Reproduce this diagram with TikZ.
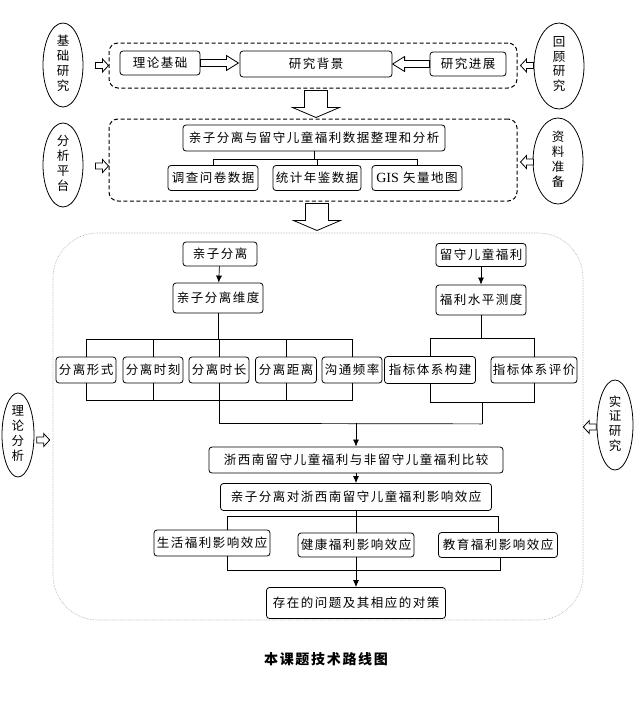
\documentclass[tikz,border=0pt]{standalone}
\usepackage{fontspec}
\newfontfamily\cjk[LetterSpace=12]{Noto Sans CJK SC}
\newfontfamily\cjkside{Noto Sans CJK SC}
\newfontfamily\tnr{Liberation Serif}
\usetikzlibrary{shapes.geometric,arrows.meta,calc}

% four characters one below the other
\newcommand{\vlabel}[4]{\begin{tabular}{@{}c@{}}#1\\#2\\#3\\#4\end{tabular}}

\tikzset{
  box/.style={draw, rounded corners=3pt, line width=0.8pt, inner sep=0pt,
    font=\cjk\fontsize{12.5}{14}\selectfont},
  side/.style={draw, ellipse, line width=0.8pt, inner sep=0pt,
    font=\cjkside\fontsize{12.5}{14.5}\selectfont},
  frame/.style={draw, dash pattern=on 4pt off 2.5pt, line width=1pt, rounded corners=9pt},
  outer/.style={draw=gray!70, densely dotted, line width=0.6pt, rounded corners=45pt},
  link/.style={line width=0.7pt},
  arr/.style={link, -{Latex[length=7pt,width=6pt]}},
  harrow/.pic={\draw[fill=white, line width=0.8pt] (0,-3.5) -- ({#1-12},-3.5) -- ({#1-12},-7.5)
    -- (#1,0) -- ({#1-12},7.5) -- ({#1-12},3.5) -- (0,3.5) -- cycle;},
  smallarr/.pic={\draw[fill=white, line width=0.8pt] (-13,-3) -- (-6,-3) -- (-6,-6.5)
    -- (0,0) -- (-6,6.5) -- (-6,3) -- (-13,3) -- cycle;},
  bigdown/.pic={\draw[fill=white, line width=0.8pt] (-11.5,2) -- (-11.5,19) -- (-23.5,19)
    -- (0,29) -- (23.5,19) -- (11.5,19) -- (11.5,2) -- cycle;}
}

\begin{document}
\begin{tikzpicture}[x=1pt,y=-1pt]
\useasboundingbox (0,0) rectangle (635,728);

% the first frame: background of the study
\node[frame, minimum width=408pt, minimum height=45pt] (bgbox) at (313,65.5) {};
\node[box, minimum width=80pt, minimum height=24pt] (llj) at (160,63) {理论基础};
\node[box, minimum width=152pt, minimum height=26pt] (yjbj) at (316,64) {研究背景};
\node[box, minimum width=76pt, minimum height=24pt] (yjjz) at (468,64) {研究进展};
\pic at (llj.east) {harrow=38};
\pic[xscale=-1] at (yjjz.west) {harrow=37};
% the side ellipses of the first frame
\node[side, minimum width=40pt, minimum height=84pt] (jcyj) at (63,65) {\vlabel{基}{础}{研}{究}};
\node[side, minimum width=50pt, minimum height=86pt] (hgyj) at (559,66) {\vlabel{回}{顾}{研}{究}};
\pic at (bgbox.west) {smallarr};
\pic[xscale=-1] at ($(bgbox.east)+(3,0)$) {smallarr};
\pic at (yjbj.south |- bgbox.south) {bigdown};

% the second frame: the data
\node[frame, minimum width=408pt, minimum height=82pt] (databox) at (313,160) {};
\node[box, minimum width=262pt, minimum height=26pt] (sjzl) at (314,138) {亲子分离与留守儿童福利数据整理和分析};
\node[box, minimum width=90pt, minimum height=25pt] (dcwj) at (213,178) {调查问卷数据};
\node[box, minimum width=88pt, minimum height=25pt] (tjnj) at (317,178) {统计年鉴数据};
\node[box, minimum width=90pt, minimum height=25pt] (gis) at (417,178) {{\tnr\fontsize{14}{14}\selectfont GIS} 矢量地图};
\draw[link] (sjzl.south) -- ++(0,8) coordinate (t0);
\draw[link] (dcwj.north) |- (t0) -| (gis.north);
\draw[link] (tjnj.north) -- (tjnj.north |- t0);
% the side ellipses of the second frame
\node[side, minimum width=40pt, minimum height=84pt] (fxpt) at (63,165) {\vlabel{分}{析}{平}{台}};
\node[side, minimum width=50pt, minimum height=86pt] (zlzb) at (558,161) {\vlabel{资}{料}{准}{备}};
\pic at ($(databox.west)+(0,6)$) {smallarr};
\pic[xscale=-1] at ($(databox.east)+(3,2)$) {smallarr};
\pic at (tjnj.south |- databox.south) {bigdown};

% the outer frame: the analysis
\node[outer, minimum width=530pt, minimum height=387pt] (mainbox) at (318,426.5) {};
\node[box, minimum width=74pt, minimum height=24pt] (qzfl) at (220,254) {亲子分离};
\node[box, minimum width=90pt, minimum height=30pt] (qzwd) at (218,298) {亲子分离维度};
\node[box, minimum width=90pt, minimum height=23pt] (lsfl) at (481,255) {留守儿童福利};
\node[box, minimum width=90pt, minimum height=30pt] (flsp) at (481,300) {福利水平测度};
\draw[arr] (qzfl) -- (qzwd);
\draw[arr] (lsfl) -- (flsp);
% the five dimensions
\node[box, minimum width=60pt, minimum height=26pt] (flxs) at (86,370) {分离形式};
\node[box, minimum width=60pt, minimum height=26pt] (flsk) at (153,370) {分离时刻};
\node[box, minimum width=60pt, minimum height=26pt] (flsc) at (219,370) {分离时长};
\node[box, minimum width=61pt, minimum height=26pt] (fljl) at (286,370) {分离距离};
\node[box, minimum width=60pt, minimum height=26pt] (gtpl) at (352,370) {沟通频率};
\draw[link] (qzwd.south) -- ++(0,26) coordinate (t1);
\draw[link] (flxs.north) |- (t1) -| (gtpl.north);
\draw[link] (flsk.north) -- (flsk.north |- t1);
\draw[link] (flsc.north) -- (flsc.north |- t1);
\draw[link] (fljl.north) -- (fljl.north |- t1);
\draw[link] (flxs.south) -- ++(0,17) coordinate (b1) -| (gtpl.south);
\draw[link] (flsk.south) -- (flsk.south |- b1);
\draw[link] (fljl.south) -- (fljl.south |- b1);
\draw[link] (flsc.south) -- ++(0,40) coordinate (m1);
% the index system
\node[box, minimum width=91pt, minimum height=27pt] (zbgj) at (430,370) {指标体系构建};
\node[box, minimum width=86pt, minimum height=26pt] (zbpj) at (534,370) {指标体系评价};
\draw[link] (flsp.south) -- ++(0,23) coordinate (t2);
\draw[link] (zbgj.north) |- (t2) -| (zbpj.north);
\draw[link] (zbgj.south) -- ++(0,18) coordinate (b2) -| (zbpj.south);
\draw[link] ($(b2)!0.5!(zbpj.south |- b2)$) -- ++(0,22) coordinate (m2);
\draw[link] (m1) -- (m2);

% the comparison and the effects
\node[box, minimum width=294pt, minimum height=26pt] (bj) at (356,460) {浙西南留守儿童福利与非留守儿童福利比较};
\node[box, minimum width=271pt, minimum height=27pt] (yxxy) at (356,497) {亲子分离对浙西南留守儿童福利影响效应};
\draw[arr] (m1 -| bj.north) -- (bj.north);
\draw[arr] (bj) -- (yxxy);
\node[box, minimum width=116pt, minimum height=26pt] (shxy) at (212,543) {生活福利影响效应};
\node[box, minimum width=116pt, minimum height=24pt] (jkxy) at (356,545) {健康福利影响效应};
\node[box, minimum width=119pt, minimum height=25pt] (jyxy) at (498,545) {教育福利影响效应};
\draw[link] (yxxy.south) -- (jkxy.north);
\draw[link] ($(shxy.north)+(15,0)$) |- ($(jyxy.north)+(0,-16)$) -- (jyxy.north);
\draw[link] ($(shxy.south)+(15,0)$) |- ($(jyxy.south)+(2,12)$) -- ($(jyxy.south)+(2,0)$);
\node[box, minimum width=179pt, minimum height=31pt] (czwt) at (356,603) {存在的问题及其相应的对策};
\draw[arr] (jkxy.south) -- (czwt.north);
% the side ellipses of the outer frame
\node[side, minimum width=32pt, minimum height=84pt] (llfx) at (18,435) {\vlabel{理}{论}{分}{析}};
\node[side, minimum width=36pt, minimum height=90pt] (szyj) at (615,425) {\vlabel{实}{证}{研}{究}};
\pic at ($(mainbox.west)+(-3,13.5)$) {smallarr};
\pic[xscale=-1] at ($(mainbox.east)+(0,0.5)$) {smallarr};

% the caption
\node[font=\cjk\bfseries\fontsize{14}{14}\selectfont] (title) at (326,659) {本课题技术路线图};
\end{tikzpicture}
\end{document}
